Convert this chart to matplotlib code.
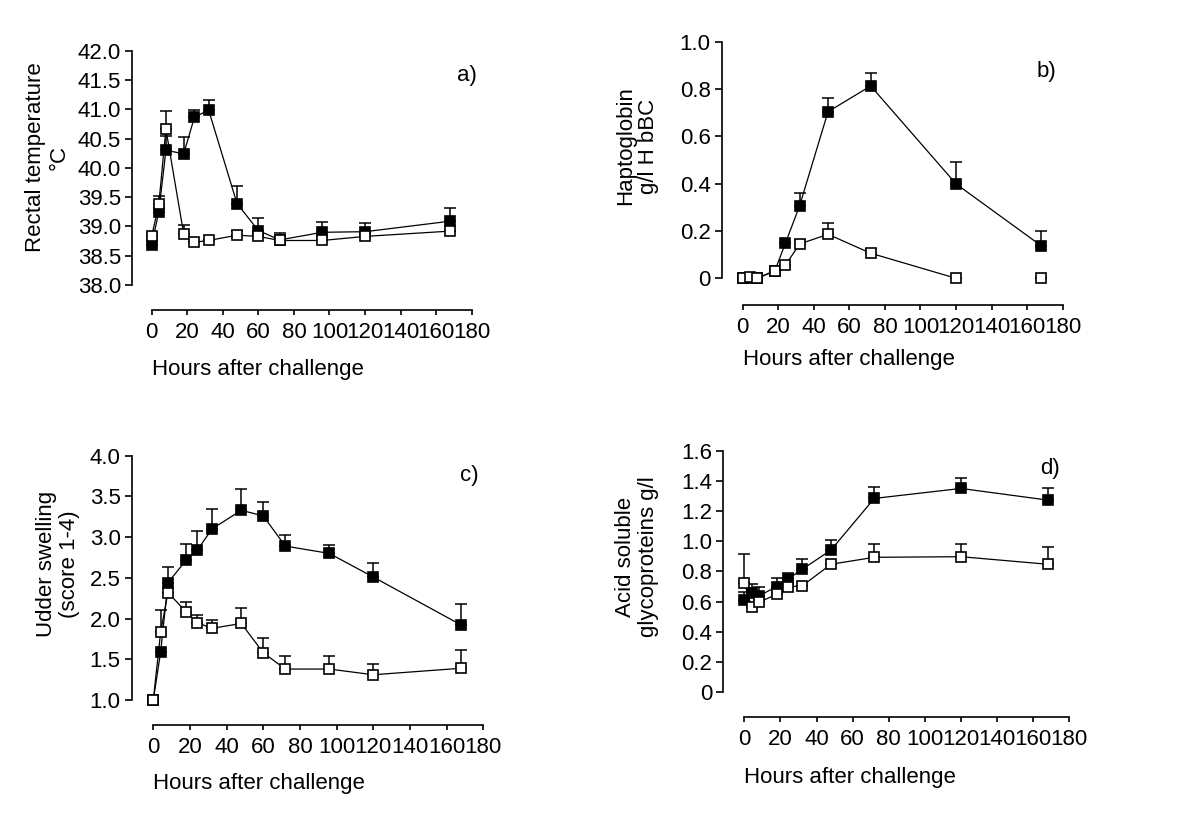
import numpy as np
import matplotlib
matplotlib.use("Agg")
import matplotlib.pyplot as plt

plt.rcParams["font.family"] = ["Liberation Sans", "DejaVu Sans"]

# ---------------------------------------------------------------------------
# data: means and upper SEM, filled = challenged group, open = control group
# ---------------------------------------------------------------------------
hours_a = [0, 4, 8, 18, 24, 32, 48, 60, 72, 96, 120, 168]
temp_filled = [38.69, 39.25, 40.30, 40.24, 40.86, 40.99, 39.39, 38.93, 38.77, 38.90, 38.91, 39.09]
temp_filled_err = [0.0, 0.0, 0.24, 0.28, 0.13, 0.16, 0.30, 0.22, 0.12, 0.18, 0.14, 0.23]
temp_open = [38.83, 39.38, 40.66, 38.87, 38.73, 38.76, 38.85, 38.83, 38.76, 38.76, 38.83, 38.92]
temp_open_err = [0.05, 0.14, 0.31, 0.15, 0.0, 0.0, 0.08, 0.0, 0.06, 0.0, 0.0, 0.0]

hours_b = [0, 4, 8, 18, 24, 32, 48, 72, 120, 168]
hp_filled = [0.0, 0.0, 0.0, 0.03, 0.148, 0.306, 0.704, 0.813, 0.399, 0.137]
hp_filled_err = [0.0, 0.0, 0.0, 0.0, 0.0, 0.055, 0.056, 0.053, 0.094, 0.063]
hp_open = [0.0, 0.004, 0.0, 0.032, 0.055, 0.145, 0.186, 0.106, 0.0, 0.0]
hp_open_err = [0.0, 0.0, 0.0, 0.0, 0.0, 0.017, 0.046, 0.016, 0.0, 0.0]

hours_c = [0, 4, 8, 18, 24, 32, 48, 60, 72, 96, 120, 168]
udder_filled = [1.0, 1.59, 2.44, 2.72, 2.84, 3.10, 3.33, 3.26, 2.89, 2.80, 2.51, 1.92]
udder_filled_err = [0.0, 0.0, 0.19, 0.19, 0.24, 0.24, 0.26, 0.17, 0.14, 0.10, 0.17, 0.26]
udder_open = [1.0, 1.83, 2.32, 2.08, 1.95, 1.88, 1.94, 1.58, 1.38, 1.38, 1.31, 1.39]
udder_open_err = [0.0, 0.27, 0.0, 0.12, 0.09, 0.10, 0.19, 0.18, 0.16, 0.16, 0.13, 0.22]

hours_d = [0, 4, 8, 18, 24, 32, 48, 72, 120, 168]
asg_filled = [0.611, 0.66, 0.638, 0.70, 0.748, 0.814, 0.942, 1.284, 1.35, 1.273]
asg_filled_err = [0.05, 0.06, 0.0, 0.06, 0.04, 0.066, 0.067, 0.078, 0.07, 0.077]
asg_open = [0.726, 0.567, 0.596, 0.649, 0.70, 0.704, 0.848, 0.894, 0.898, 0.848]
asg_open_err = [0.188, 0.0, 0.10, 0.0, 0.0, 0.0, 0.0, 0.086, 0.082, 0.116]

W, H = 1204, 836
fig = plt.figure(figsize=(W / 100, H / 100), dpi=100)
fig.patch.set_facecolor("white")

FS = 16


def painel(px, ymin, ymax, ystep, yfmt, ylabel, ylab_xy, xlab_y, letra, letra_xy):
    # px = (spine x, x=0 px, x=180 px, ymax px, ymin px, x-axis px)
    L, X0, X180, T, B, XA = px
    ax = fig.add_axes([L / W, 1 - XA / H, (X180 - L) / W, (XA - T) / H])
    xmin = -(X0 - L) / (X180 - X0) * 180
    ybot = ymin - (XA - B) / (B - T) * (ymax - ymin)
    ax.set_xlim(xmin, 180)
    ax.set_ylim(ybot, ymax)
    for s in ("top", "right"):
        ax.spines[s].set_visible(False)
    ax.spines["left"].set_bounds(ymin, ymax)
    ax.spines["bottom"].set_bounds(0, 180)
    for s in ("left", "bottom"):
        ax.spines[s].set_linewidth(1.2)
    yt = np.arange(ymin, ymax + ystep / 2, ystep)
    ax.set_yticks(yt)
    ax.set_yticklabels([yfmt(v) for v in yt])
    ax.set_xticks(range(0, 181, 20))
    ax.tick_params(axis="y", direction="out", length=5, width=1.2, pad=3, labelsize=FS)
    ax.tick_params(axis="x", direction="out", length=3.5, width=1.2, pad=5, labelsize=FS)
    fig.text(ylab_xy[0] / W, 1 - ylab_xy[1] / H, ylabel, rotation=90,
             ha="center", va="center", multialignment="center", fontsize=FS,
             linespacing=1.15)
    fig.text(X0 / W, 1 - xlab_y / H, "Hours after challenge", ha="left",
             va="center", fontsize=FS)
    fig.text(letra_xy[0] / W, 1 - letra_xy[1] / H, letra, ha="center",
             va="center", fontsize=FS)
    return ax


def serie(ax, t, v, e, cheio, ligar=None):
    t = np.asarray(t, float)
    v = np.asarray(v, float)
    e = np.asarray(e, float)
    z = 3 if cheio else 5
    ax.errorbar(t, v, yerr=[np.zeros_like(e), e], fmt="none", ecolor="black",
                elinewidth=1.1, capsize=4, capthick=1.1, zorder=z - 1, clip_on=False)
    n = len(t) if ligar is None else ligar
    ax.plot(t[:n], v[:n], color="black", lw=0.9, zorder=z, clip_on=False)
    ax.plot(t, v, ls="none", marker="s", ms=6.5, mew=1.2, mec="black",
            mfc="black" if cheio else "white", zorder=z + 0.5, clip_on=False)


um = lambda v: f"{v:.1f}"
zero = lambda v: "0" if abs(v) < 1e-9 else f"{v:.1f}"

# a) rectal temperature
ax = painel((132, 151.7, 471.7, 50.7, 285, 310), 38.0, 42.0, 0.5, um,
            "Rectal temperature\n°C", (47, 157), 370, "a)", (467, 75))
serie(ax, hours_a, temp_filled, temp_filled_err, True)
serie(ax, hours_a, temp_open, temp_open_err, False)

# b) haptoglobin
ax = painel((721.7, 742.7, 1062.7, 41.7, 278.3, 305), 0.0, 1.0, 0.2, zero,
            "Haptoglobin\ng/l H bBC", (637, 146), 360, "b)", (1046, 72))
serie(ax, hours_b, hp_filled, hp_filled_err, True)
serie(ax, hours_b, hp_open, hp_open_err, False, ligar=len(hours_b) - 1)

# c) udder swelling
ax = painel((131.7, 153.3, 483.3, 455.7, 700, 725), 1.0, 4.0, 0.5, um,
            "Udder swelling\n(score 1-4)", (58, 564), 783, "c)", (469, 475))
serie(ax, hours_c, udder_filled, udder_filled_err, True)
serie(ax, hours_c, udder_open, udder_open_err, False)

# d) acid soluble glycoproteins
ax = painel((723.3, 744.3, 1069.3, 450.7, 692.3, 717.3), 0.0, 1.6, 0.2, zero,
            "Acid soluble\nglycoproteins g/l", (637, 557), 778, "d)", (1050, 468))
serie(ax, hours_d, asg_filled, asg_filled_err, True)
serie(ax, hours_d, asg_open, asg_open_err, False)

fig.savefig("out.png", dpi=100, facecolor="white")
